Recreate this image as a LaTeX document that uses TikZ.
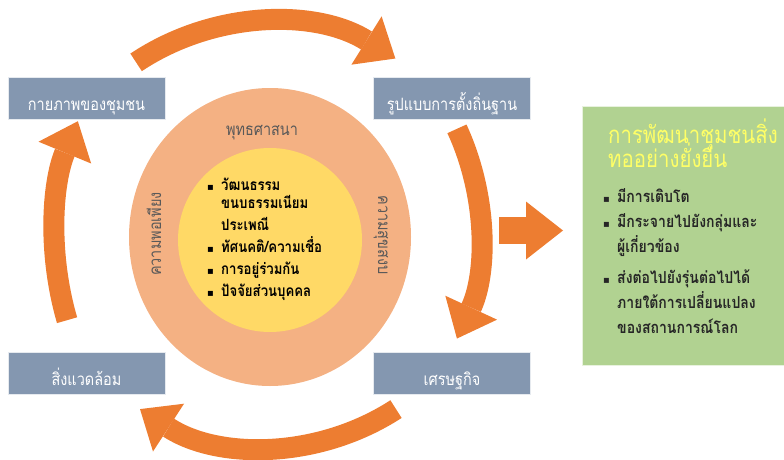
\documentclass[tikz,border=0pt]{standalone}
\usepackage{fontspec}
\newfontfamily\thaifont[Script=Thai,FakeStretch=0.85]{Loma}
\newfontfamily\symfont{DejaVu Sans}
\usetikzlibrary{arrows.meta}
\definecolor{arroworange}{RGB}{237,125,49}
\definecolor{boxblue}{RGB}{132,151,176}
\definecolor{ringpeach}{RGB}{244,177,131}
\definecolor{coreyellow}{RGB}{255,217,102}
\definecolor{resultgreen}{RGB}{177,210,145}
\definecolor{titleyellow}{RGB}{255,255,102}
\definecolor{labelgray}{RGB}{89,89,89}
\newcommand\sqmark{\makebox[14pt][l]{\symfont\fontsize{10}{10}\selectfont\char"25AA}}
\tikzset{
  place/.style={fill=boxblue, draw=white!80!boxblue, minimum width=157pt, minimum height=42pt,
    text height=25.4pt, text depth=0pt, text=white, font=\thaifont\fontsize{17}{19}\selectfont},
  cyclearrow/.style={draw=arroworange, line width=21pt,
    -{Triangle[width=57pt,length=34pt,line width=0pt 0]}},
  ringlabel/.style={anchor=base, text=labelgray, inner sep=0pt, font=\thaifont\fontsize{17}{19}\selectfont},
  coreline/.style={anchor=base west, inner sep=0pt, font=\thaifont\bfseries\fontsize{15.5}{17}\selectfont},
  resultline/.style={anchor=base west, inner sep=0pt, text=black!85, font=\thaifont\bfseries\fontsize{16.5}{18}\selectfont},
  titleline/.style={anchor=base west, inner sep=0pt, text=titleyellow, font=\thaifont\fontsize{24}{26}\selectfont}
}
\begin{document}
\begin{tikzpicture}[x=1pt, y=1pt]
  \useasboundingbox (0,0) rectangle (784,459);
  \fill[ringpeach] (270,222) ellipse [x radius=141, y radius=149];
  \fill[coreyellow] (270,219) circle [radius=92];

  \coordinate (topc) at (268.7,197.8);
  \coordinate (rightc) at (230,225.3);
  \coordinate (bottomc) at (268,247);
  \coordinate (leftc) at (355,223);
  \draw[cyclearrow] ([shift={(123.7:239)}]topc) arc [start angle=123.7, end angle=58, radius=239];
  \draw[cyclearrow] ([shift={(24.8:250)}]rightc) arc [start angle=24.8, end angle=-24.8, radius=250];
  \draw[cyclearrow] ([shift={(-57:235)}]bottomc) arc [start angle=-57, end angle=-123, radius=235];
  \draw[cyclearrow] ([shift={(196.3:300)}]leftc) arc [start angle=196.3, end angle=157.5, radius=300];

  \node[place] (physical) at (86.5,361) {กายภาพของชุมชน};
  \node[place] (settlement) at (452,361) {รูปแบบการตั้งถิ่นฐาน};
  \node[place] (environment) at (86.5,86) {สิ่งแวดล้อม};
  \node[place] (economy) at (452,86) {เศรษฐกิจ};

  \node[ringlabel] (religion) at (262,324) {พุทธศาสนา};
  \node[ringlabel, rotate=90] (sufficiency) at (161,225) {ความพอเพียง};
  \node[ringlabel, rotate=-90] (peace) at (378,224) {ความสุขสงบ};

  \node[coreline] (culture) at (207,269) {\sqmark วัฒนธรรม};
  \node[coreline] (custom) at (221,251) {ขนบธรรมเนียม};
  \node[coreline] (tradition) at (221,229) {ประเพณี};
  \node[coreline] (belief) at (207,207) {\sqmark ทัศนคติ/ความเชื่อ};
  \node[coreline] (together) at (207,184.5) {\sqmark การอยู่ร่วมกัน};
  \node[coreline] (personal) at (207,162.5) {\sqmark ปัจจัยส่วนบุคคล};

  \node[fill=resultgreen, draw=white!70!resultgreen, minimum width=202pt, minimum height=259pt] (result) at (683,223.5) {};
  \node[titleline] (title1) at (608,316) {การพัฒนาชุมชนสิ่ง};
  \node[titleline] (title2) at (608,292) {ทออย่างยั่งยืน};
  \node[resultline] (growth) at (603,257) {\sqmark มีการเติบโต};
  \node[resultline] (spread) at (603,232) {\sqmark มีกระจายไปยังกลุ่มและ};
  \node[resultline] (spread2) at (617,207) {ผู้เกี่ยวข้อง};
  \node[resultline] (pass) at (603,176) {\sqmark ส่งต่อไปยังรุ่นต่อไปได้};
  \node[resultline] (pass2) at (617,151) {ภายใต้การเปลี่ยนแปลง};
  \node[resultline] (pass3) at (617,126) {ของสถานการณ์โลก};

  \coordinate (flowstart) at (499,228.5);
  \coordinate (flowend) at (563,228.5);
  \draw[draw=arroworange, line width=27pt, -{Triangle[width=58pt,length=37pt,line width=0pt 0]}] (flowstart) -- (flowend);
\end{tikzpicture}
\end{document}
